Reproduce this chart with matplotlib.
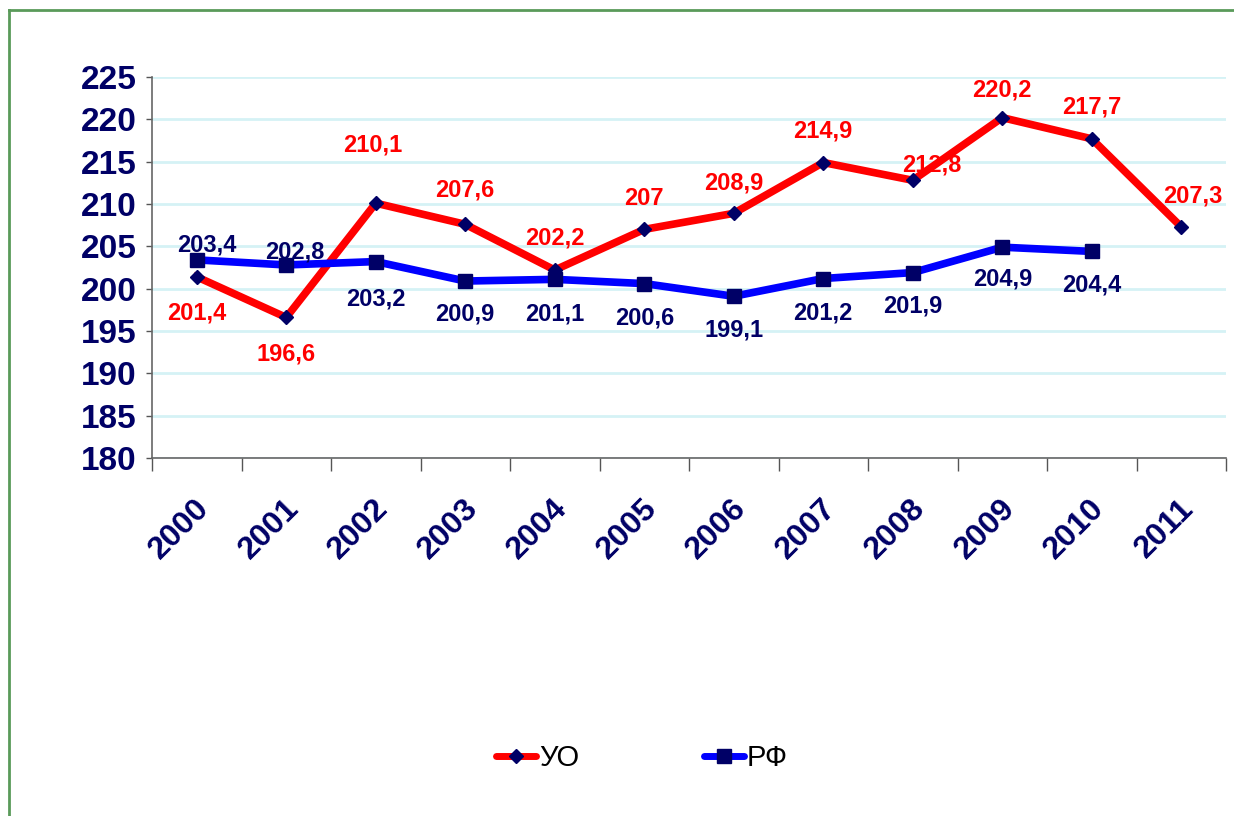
import matplotlib
matplotlib.use("Agg")
import matplotlib.pyplot as plt
from matplotlib.lines import Line2D

years = ["2000", "2001", "2002", "2003", "2004", "2005", "2006", "2007", "2008", "2009", "2010", "2011"]
uo = [201.4, 196.6, 210.1, 207.6, 202.2, 207.0, 208.9, 214.9, 212.8, 220.2, 217.7, 207.3]
rf = [203.4, 202.8, 203.2, 200.9, 201.1, 200.6, 199.1, 201.2, 201.9, 204.9, 204.4]
uo_labels = ["201,4", "196,6", "210,1", "207,6", "202,2", "207", "208,9", "214,9", "212,8", "220,2", "217,7", "207,3"]
rf_labels = ["203,4", "202,8", "203,2", "200,9", "201,1", "200,6", "199,1", "201,2", "201,9", "204,9", "204,4"]

# label offsets in points (dx, dy)
uo_off = [(0, -26), (0, -26), (-2, 42), (0, 25), (0, 23), (0, 22), (0, 22), (0, 23), (14, 11), (0, 20), (0, 23), (8, 22)]
rf_off = [(7, 11), (6, 9), (0, -27), (0, -24), (0, -25), (0, -25), (0, -24), (0, -25), (0, -24), (0, -23), (0, -24)]

plt.rcParams['font.family'] = ['Liberation Sans', 'DejaVu Sans']

NAVY = "#000066"
fig = plt.figure(figsize=(12.34, 8.16), dpi=100)
ax = fig.add_axes([152/1234, 358/816, 1074/1234, 381/816])

x = list(range(len(years)))
ax.plot(x, uo, color="#ff0000", lw=5.5, marker="D", ms=7, mfc=NAVY, mec=NAVY, zorder=3, solid_joinstyle="miter")
ax.plot(x[:len(rf)], rf, color="#0000ff", lw=5.5, marker="s", ms=10, mfc=NAVY, mec=NAVY, zorder=3, solid_joinstyle="miter")

for i, (v, t) in enumerate(zip(uo, uo_labels)):
    ax.annotate(t, (i, v), xytext=uo_off[i], textcoords="offset points", ha="center", va="center",
                color="#ff0000", fontsize=17, fontweight="bold", zorder=4)
for i, (v, t) in enumerate(zip(rf, rf_labels)):
    ax.annotate(t, (i, v), xytext=rf_off[i], textcoords="offset points", ha="center", va="center",
                color=NAVY, fontsize=17, fontweight="bold", zorder=4)

ax.set_xlim(-0.5, len(years) - 0.5)
ax.set_ylim(180, 225)
ax.set_yticks(range(180, 226, 5))
ax.tick_params(axis="y", labelsize=24, labelcolor=NAVY, length=4, width=1, color="#555555", pad=7)
for lab in ax.get_yticklabels():
    lab.set_fontweight("bold")
ax.yaxis.grid(True, color="#d5f2f5", lw=2)
ax.set_axisbelow(True)

ax.set_xticks([i - 0.5 for i in range(len(years) + 1)])
ax.set_xticklabels([])
ax.set_xticks(x, minor=True)
ax.set_xticklabels(years, minor=True, rotation=45, ha="right", va="center", rotation_mode="anchor",
                   fontsize=23, fontweight="bold", color=NAVY)
ax.tick_params(axis="x", which="major", length=9, width=1, color="#555555")
ax.tick_params(axis="x", which="minor", length=0, pad=33)
for lab in ax.get_xticklabels(minor=True):
    lab.set_transform(lab.get_transform() + matplotlib.transforms.ScaledTranslation(6/72, 0, fig.dpi_scale_trans))

for s in ["top", "right"]:
    ax.spines[s].set_visible(False)
for s in ["left", "bottom"]:
    ax.spines[s].set_color("#666666")
    ax.spines[s].set_linewidth(1.2)

handles = [
    Line2D([], [], color="#ff0000", lw=5, marker="D", ms=7, mfc=NAVY, mec=NAVY, solid_capstyle="round"),
    Line2D([], [], color="#0000ff", lw=5, marker="s", ms=10, mfc=NAVY, mec=NAVY, solid_capstyle="round"),
]
fig.legend(handles, ["УО", "РФ"], loc="center", bbox_to_anchor=(642/1234, 1 - 758/816), ncol=2,
           frameon=False, fontsize=21, handlelength=1.35, handletextpad=0.1, columnspacing=4.3)

# green frame
fig.add_artist(Line2D([9/1234, 1], [1 - 10/816, 1 - 10/816], color="#5a9a5a", lw=2, transform=fig.transFigure))
fig.add_artist(Line2D([9/1234, 9/1234], [0, 1 - 10/816], color="#5a9a5a", lw=2, transform=fig.transFigure))

fig.savefig("out.png", dpi=100)
